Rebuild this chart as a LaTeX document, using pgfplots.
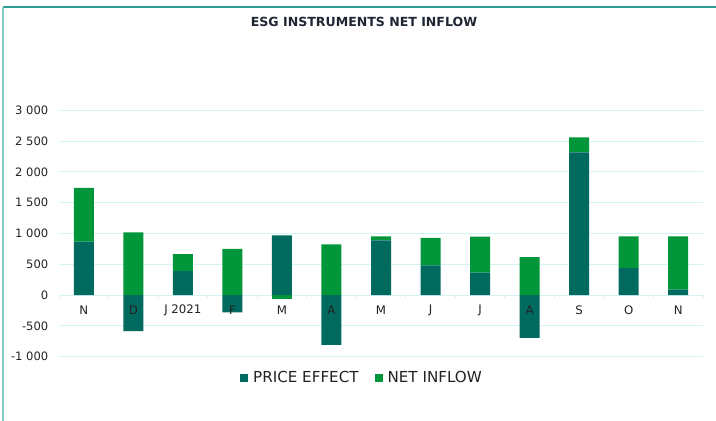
\documentclass[border=0pt]{standalone}
\usepackage{pgfplots}
\pgfplotsset{compat=1.18}
\usepackage{fontspec}
\setmainfont{DejaVu Sans}
\definecolor{priceC}{HTML}{006A5F}
\definecolor{netC}{HTML}{009639}
\definecolor{gridC}{HTML}{D2F4F4}
\definecolor{topC}{HTML}{2E9C8E}
\definecolor{leftC}{HTML}{85CBC3}
\definecolor{titleC}{HTML}{1F2633}
\definecolor{txtC}{HTML}{222222}
\pgfplotsset{
  common/.style={
    scale only axis, width=644bp, height=246.4bp,
    at={(59bp,64.3bp)}, anchor=south west,
    xmin=-0.5, xmax=12.5, ymin=-1000, ymax=3000,
    enlargelimits=false,
  },
}
\begin{document}
\begin{tikzpicture}
\useasboundingbox (0,0) rectangle (716bp,421bp);
\draw[topC, line width=1.2bp] (3bp,414bp) -- (716bp,414bp);
\draw[leftC, line width=1.6bp] (3bp,0bp) -- (3bp,414bp);
\node[font=\bfseries\fontsize{12.6}{15}\selectfont, text=titleC] at (364bp,399bp) {ESG INSTRUMENTS NET INFLOW};
% grid, y labels, negative parts, legend
\begin{axis}[common,
  ybar stacked, bar width=20bp,
  axis x line*=middle, axis y line*=left,
  x axis line style={draw=gridC, line width=0.8bp},
  y axis line style={draw=none},
  ymajorgrids, grid style={gridC, line width=0.8bp},
  ytick={-1000,-500,0,500,1000,1500,2000,2500,3000},
  yticklabels={-1 000,-500,0,500,1 000,1 500,2 000,2 500,3 000},
  xtick={0,...,12},
  xticklabels={},
  minor xtick={-0.5,0.5,...,12.5},
  major tick length=0pt, minor tick length=3bp, tick align=outside,
  minor x tick style={gridC, line width=0.8bp},
  ytick style={draw=none},
  yticklabel style={font=\fontsize{11.6}{13}\selectfont, text=txtC, anchor=east, inner sep=0pt, xshift=-10.5bp},
  legend style={at={(0.4705,-0.086)}, anchor=center, draw=none, fill=none,
    font=\fontsize{15.2}{18}\selectfont, text=txtC,
    /tikz/every odd column/.append style={column sep=3bp},
    /tikz/every even column/.append style={column sep=14bp}},
  legend columns=2,
  legend image code/.code={\fill[#1] (0bp,-4bp) rectangle (8bp,4bp);},
]
\addplot[fill=priceC, draw=none] coordinates {(0,0) (1,-586) (2,0) (3,-282) (4,0) (5,-808) (6,0) (7,0) (8,0) (9,-694) (10,0) (11,0) (12,0)};
\addplot[fill=netC, draw=none] coordinates {(0,0) (1,0) (2,0) (3,0) (4,-71) (5,0) (6,0) (7,0) (8,0) (9,0) (10,0) (11,0) (12,0)};
\legend{PRICE EFFECT, NET INFLOW}
\end{axis}
% positive parts
\begin{axis}[common, hide axis, ybar stacked, bar width=20bp]
\addplot[fill=priceC, draw=none] coordinates {(0,868) (1,0) (2,391) (3,0) (4,971) (5,0) (6,890) (7,483) (8,363) (9,0) (10,2316) (11,439) (12,87)};
\addplot[fill=netC, draw=none] coordinates {(0,873) (1,1020) (2,276) (3,749) (4,0) (5,825) (6,65) (7,445) (8,586) (9,618) (10,245) (11,516) (12,868)};
\end{axis}
% x tick labels on top
\begin{axis}[common,
  axis x line*=middle, axis y line=none,
  x axis line style={draw=none},
  xtick={0,...,12},
  xticklabels={N,D,J 2021,F,M,A,M,J,J,A,S,O,N},
  major tick length=0pt,
  xticklabel style={font=\fontsize{11.8}{13}\selectfont, text=txtC, anchor=center, inner sep=0pt, yshift=-15bp},
]
\addplot[draw=none] coordinates {(0,0) (12,0)};
\end{axis}
\end{tikzpicture}
\end{document}
